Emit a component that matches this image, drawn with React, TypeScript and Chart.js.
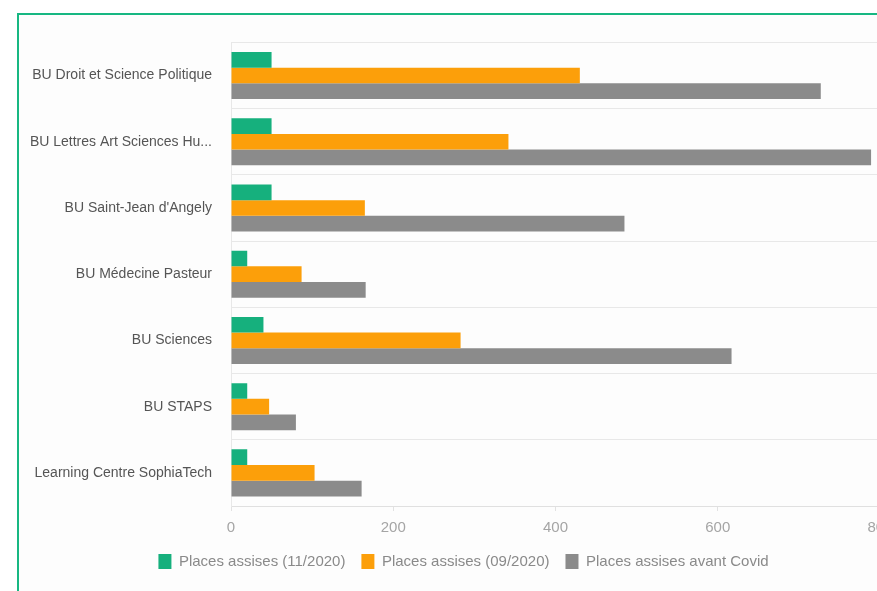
import React, { useEffect, useRef } from "react";
import { Chart, registerables } from "chart.js";

Chart.register(...registerables);

const categories = [
  "BU Droit et Science Politique",
  "BU Lettres Art Sciences Hu...",
  "BU Saint-Jean d'Angely",
  "BU Médecine Pasteur",
  "BU Sciences",
  "BU STAPS",
  "Learning Centre SophiaTech",
];

const seriesNames = [
  "Places assises (11/2020)",
  "Places assises (09/2020)",
  "Places assises avant Covid",
];

const places112020 = [50, 50, 50, 20, 40, 20, 20];
const places092020 = [430, 342, 165, 87, 283, 47, 103];
const placesAvantCovid = [727, 789, 485, 166, 617, 80, 161];

const xTicks = [0, 200, 400, 600, 800];

const colors = ["#16b07d", "#fc9f0a", "#8b8b8b"];

const legendShift = {
  id: "legendShift",
  afterLayout(chart: any) {
    const lg = chart.legend;
    if (lg) {
      lg.left += 14;
      lg.right += 14;
    }
  },
};

export default function App() {
  const ref = useRef<HTMLCanvasElement | null>(null);

  useEffect(() => {
    if (!ref.current) return;
    const font = "'Liberation Sans', Arial, sans-serif";
    const chart = new Chart(ref.current, {
      type: "bar",
      data: {
        labels: categories,
        datasets: [places112020, places092020, placesAvantCovid].map((d, i) => ({
          label: seriesNames[i],
          data: d,
          backgroundColor: colors[i],
          borderWidth: 0,
          barPercentage: 1,
          categoryPercentage: 0.71,
        })),
      },
      options: {
        indexAxis: "y",
        responsive: false,
        animation: false,
        devicePixelRatio: 1,
        layout: { padding: { top: 27, right: 29, bottom: 11, left: 0 } },
        plugins: {
          legend: {
            position: "bottom",
            labels: {
              boxWidth: 13,
              boxHeight: 15,
              padding: 16,
              color: "#8a8a8a",
              font: { family: font, size: 15 },
            },
          },
          tooltip: { enabled: false },
        },
        scales: {
          x: {
            min: xTicks[0],
            max: xTicks[xTicks.length - 1],
            afterBuildTicks: (scale: any) => {
              scale.ticks = xTicks.map((v) => ({ value: v }));
            },
            afterFit: (scale: any) => {
              scale.height = 32;
            },
            grid: {
              drawOnChartArea: false,
              drawTicks: true,
              tickLength: 5,
              color: "#e2e2e2",
            },
            border: { color: "#e0e0e0" },
            ticks: {
              padding: 8,
              color: "#a5a5a5",
              font: { family: font, size: 15 },
            },
          },
          y: {
            afterFit: (scale: any) => {
              scale.width = 212;
            },
            grid: {
              drawTicks: false,
              color: "#e8e8e8",
            },
            border: { color: "#e8e8e8" },
            ticks: {
              padding: 19,
              color: "#555555",
              font: { family: font, size: 14 },
            },
          },
        },
      } as any,
      plugins: [legendShift],
    });
    return () => chart.destroy();
  }, []);

  return (
    <div
      style={{
        position: "fixed",
        left: 0,
        top: 0,
        width: 877,
        height: 591,
        overflow: "hidden",
        background: "#ffffff",
      }}
    >
      <div
        style={{
          position: "absolute",
          left: 17,
          top: 13,
          width: 920,
          height: 640,
          border: "2px solid #17b782",
          boxSizing: "border-box",
          background: "#fdfdfd",
        }}
      />
      <canvas
        ref={ref}
        width={890}
        height={575}
        style={{ position: "absolute", left: 19, top: 15 }}
      />
    </div>
  );
}
